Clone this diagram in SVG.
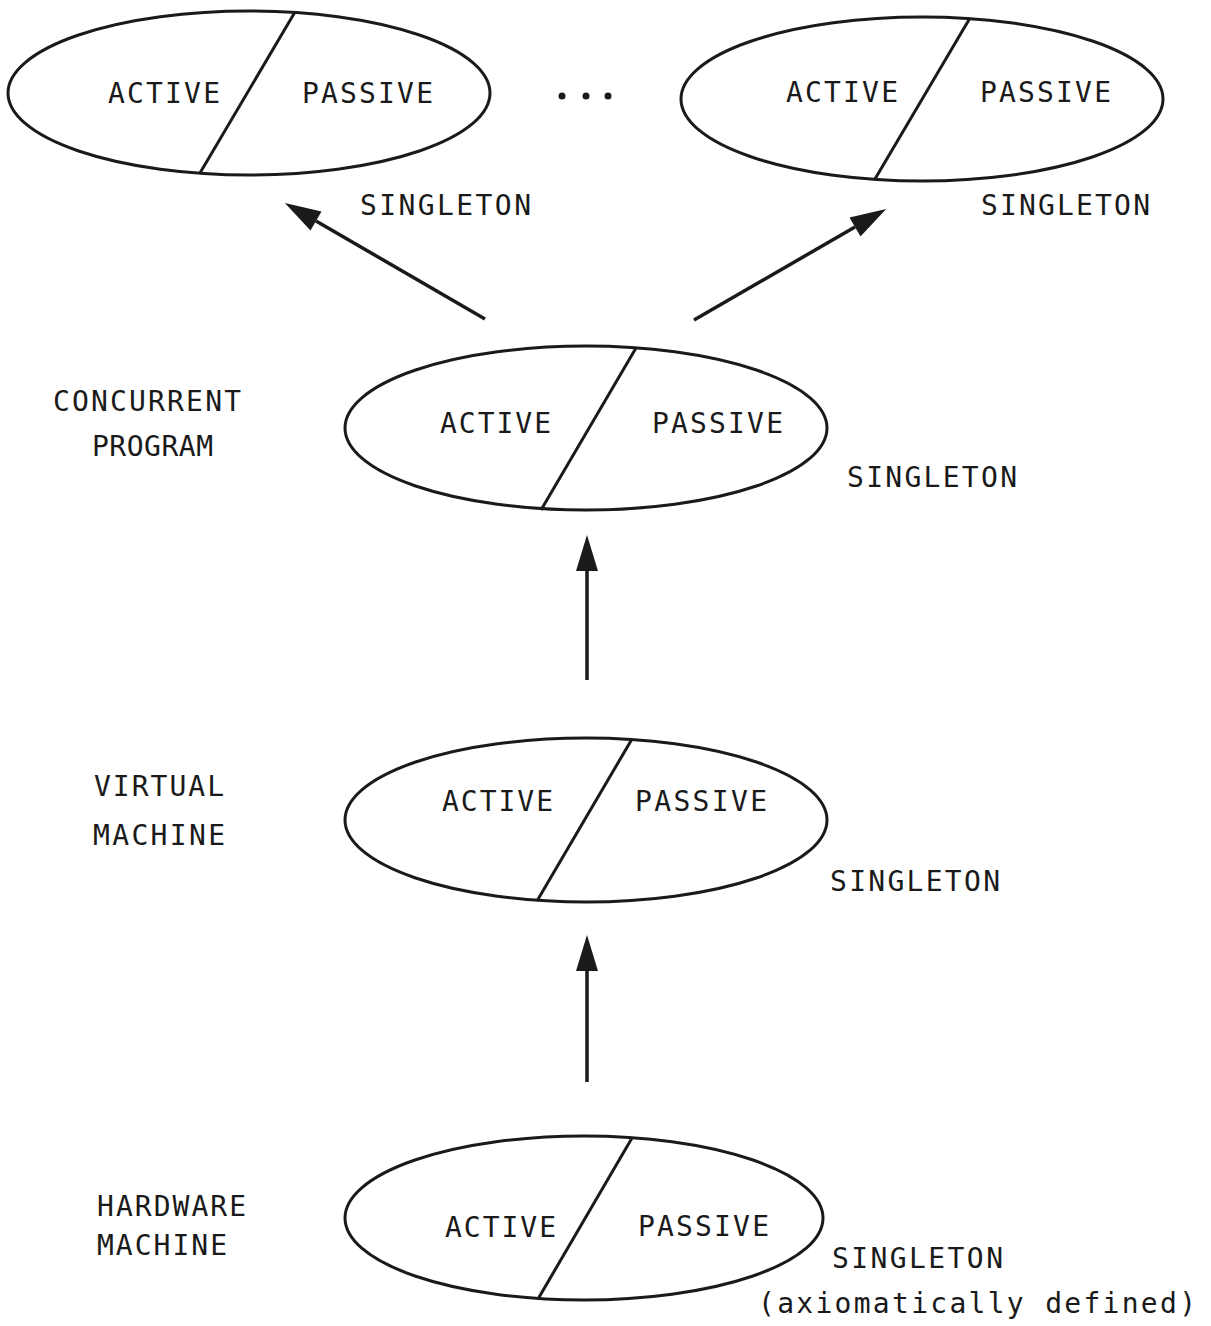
<svg xmlns="http://www.w3.org/2000/svg" width="1211" height="1326" viewBox="0 0 1211 1326">
  <style>
    .shape { fill: none; stroke: #1a1a1a; stroke-width: 3; }
    .edge { fill: none; stroke: #1a1a1a; stroke-width: 3.5; }
    text { font-family: "DejaVu Sans Mono", "Liberation Mono", monospace; font-size: 28px; fill: #1a1a1a; }
  </style>
  <defs>
    <marker id="head" markerUnits="userSpaceOnUse" markerWidth="36" markerHeight="22" refX="0" refY="11" orient="auto" overflow="visible">
      <path d="M0,0 L36,11 L0,22 z" fill="#1a1a1a"/>
    </marker>
  </defs>
  <rect width="1211" height="1326" fill="#ffffff"/>

  <!-- singleton, upper left -->
  <g id="singleton-left">
    <ellipse class="shape" cx="249" cy="93" rx="241" ry="82"/>
    <line class="shape" x1="295" y1="12" x2="200" y2="173"/>
    <text x="108" y="103" textLength="112" lengthAdjust="spacing">ACTIVE</text>
    <text x="302" y="103" textLength="131" lengthAdjust="spacing">PASSIVE</text>
    <text x="360" y="215" textLength="171" lengthAdjust="spacing">SINGLETON</text>
  </g>

  <!-- ellipsis between the upper singletons -->
  <g id="more">
    <circle cx="562" cy="96" r="3.5" fill="#1a1a1a"/>
    <circle cx="586" cy="96" r="3.5" fill="#1a1a1a"/>
    <circle cx="608" cy="96" r="3.5" fill="#1a1a1a"/>
  </g>

  <!-- singleton, upper right -->
  <g id="singleton-right">
    <ellipse class="shape" cx="922" cy="99" rx="241" ry="82"/>
    <line class="shape" x1="970" y1="18" x2="875" y2="179"/>
    <text x="786" y="102" textLength="112" lengthAdjust="spacing">ACTIVE</text>
    <text x="980" y="102" textLength="131" lengthAdjust="spacing">PASSIVE</text>
    <text x="981" y="215" textLength="169" lengthAdjust="spacing">SINGLETON</text>
  </g>

  <!-- concurrent program -->
  <g id="concurrent-program">
    <text x="53" y="411" textLength="188" lengthAdjust="spacing">CONCURRENT</text>
    <text x="92" y="456" textLength="121" lengthAdjust="spacing">PROGRAM</text>
    <ellipse class="shape" cx="586" cy="428" rx="241" ry="82"/>
    <line class="shape" x1="636" y1="348" x2="541" y2="510"/>
    <text x="440" y="433" textLength="111" lengthAdjust="spacing">ACTIVE</text>
    <text x="652" y="433" textLength="131" lengthAdjust="spacing">PASSIVE</text>
    <text x="847" y="487" textLength="170" lengthAdjust="spacing">SINGLETON</text>
  </g>

  <!-- virtual machine -->
  <g id="virtual-machine">
    <text x="94" y="796" textLength="130" lengthAdjust="spacing">VIRTUAL</text>
    <text x="93" y="845" textLength="132" lengthAdjust="spacing">MACHINE</text>
    <ellipse class="shape" cx="586" cy="820" rx="241" ry="82"/>
    <line class="shape" x1="632" y1="739" x2="537" y2="901"/>
    <text x="442" y="811" textLength="111" lengthAdjust="spacing">ACTIVE</text>
    <text x="635" y="811" textLength="132" lengthAdjust="spacing">PASSIVE</text>
    <text x="830" y="891" textLength="170" lengthAdjust="spacing">SINGLETON</text>
  </g>

  <!-- hardware machine -->
  <g id="hardware-machine">
    <text x="97" y="1216" textLength="149" lengthAdjust="spacing">HARDWARE</text>
    <text x="97" y="1255" textLength="130" lengthAdjust="spacing">MACHINE</text>
    <ellipse class="shape" cx="584" cy="1218" rx="239" ry="82"/>
    <line class="shape" x1="632" y1="1138" x2="538" y2="1299"/>
    <text x="445" y="1237" textLength="111" lengthAdjust="spacing">ACTIVE</text>
    <text x="638" y="1236" textLength="131" lengthAdjust="spacing">PASSIVE</text>
    <text x="832" y="1268" textLength="171" lengthAdjust="spacing">SINGLETON</text>
    <text x="758" y="1313" textLength="438" lengthAdjust="spacing">(axiomatically defined)</text>
  </g>

  <!-- connectors -->
  <g id="connectors">
    <line class="edge" x1="485" y1="319" x2="316" y2="221" marker-end="url(#head)"/>
    <line class="edge" x1="694" y1="320" x2="855" y2="227" marker-end="url(#head)"/>
    <line class="edge" x1="587" y1="680" x2="587" y2="571" marker-end="url(#head)"/>
    <line class="edge" x1="587" y1="1082" x2="587" y2="971" marker-end="url(#head)"/>
  </g>
</svg>
